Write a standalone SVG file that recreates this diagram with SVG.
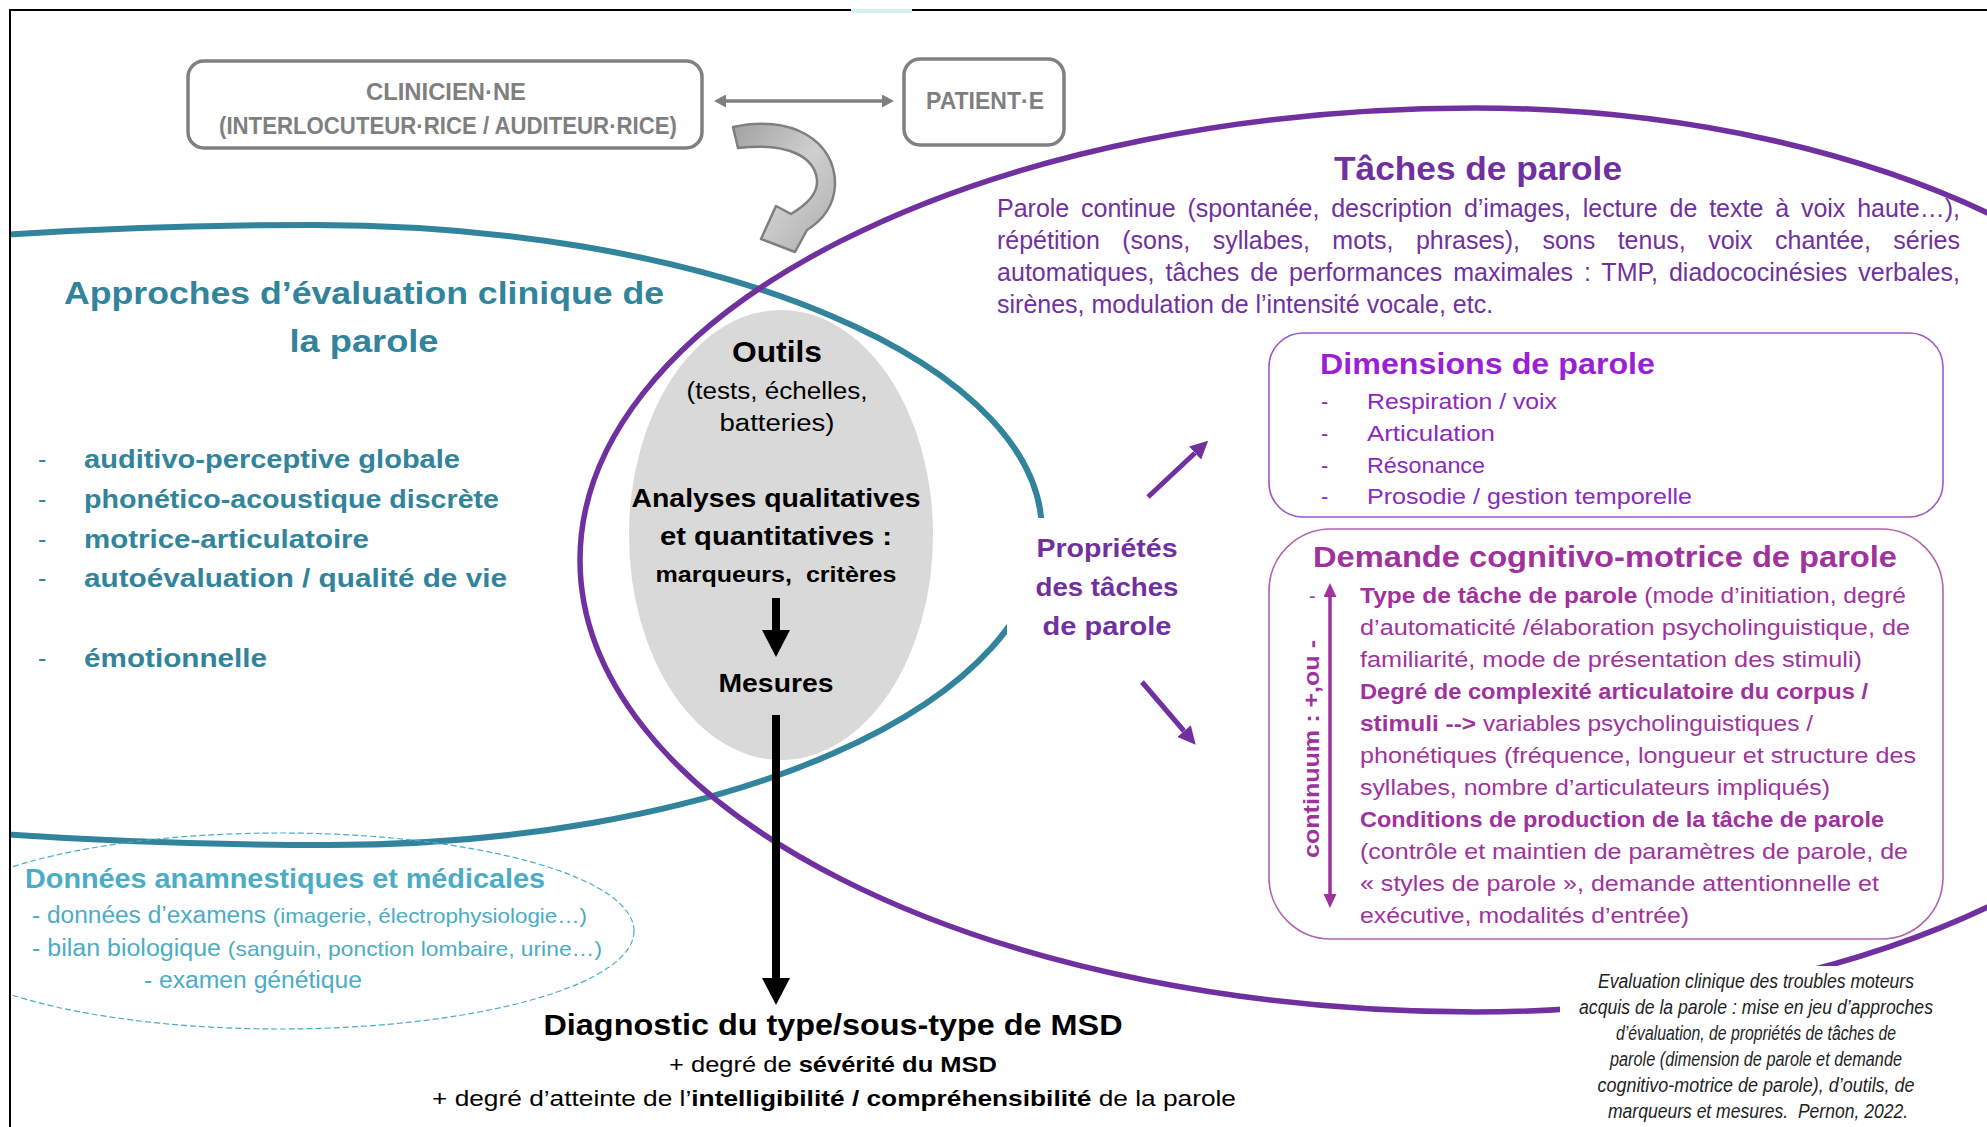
<svg xmlns="http://www.w3.org/2000/svg" width="1987" height="1127" viewBox="0 0 1987 1127">
<defs>
<style>
text{font-family:"Liberation Sans",Arial,sans-serif}
.b{font-weight:bold}
.it{font-style:italic}
.gray{fill:#7f7f7f}
.teal{fill:#31849b}
.lteal{fill:#4bacc6}
.pur{fill:#7030a0}
.vio{fill:#9a1fd6}
.vio2{fill:#8c28be}
.mag{fill:#a0329e}
.blk{fill:#000}
.cap{fill:#1e1e1e}
</style>
<marker id="ahGray" viewBox="0 0 12 13" markerWidth="12" markerHeight="13" refX="0" refY="6.5" orient="auto-start-reverse" markerUnits="userSpaceOnUse"><path d="M0,0 L12,6.5 L0,13 Z" fill="#7f7f7f"/></marker>
<marker id="ahBlack" viewBox="0 0 27 28" markerWidth="27" markerHeight="28" refX="0" refY="14" orient="auto" markerUnits="userSpaceOnUse"><path d="M0,0 L27,14 L0,28 Z" fill="#000"/></marker>
<marker id="ahPur" viewBox="0 0 18 18" markerWidth="18" markerHeight="18" refX="0" refY="9" orient="auto" markerUnits="userSpaceOnUse"><path d="M0,0 L18,9 L0,18 Z" fill="#7030a0"/></marker>
<marker id="ahMag" viewBox="0 0 14 13" markerWidth="14" markerHeight="13" refX="0" refY="6.5" orient="auto-start-reverse" markerUnits="userSpaceOnUse"><path d="M0,0 L14,6.5 L0,13 Z" fill="#a0329e"/></marker>
<linearGradient id="gArrow" x1="0" y1="0" x2="1" y2="1"><stop offset="0" stop-color="#a0a0a0"/><stop offset="0.5" stop-color="#cfcfcf"/><stop offset="1" stop-color="#adadad"/></linearGradient>
</defs>
<rect width="1987" height="1127" fill="#fff"/>

<g id="shapes">
<path id="teal-ellipse" d="M315,225 A727,307 0 0 1 1042,532 A712,313 0 0 1 330,845 A1255,313 0 0 1 -925,532 A1240,307 0 0 1 315,225 Z" fill="none" stroke="#31849b" stroke-width="6"/>
<path id="purple-ellipse" d="M1475,108 A800,452 0 0 1 2275,560 A800,452 0 0 1 1475,1012 A895,452 0 0 1 580,560 A895,452 0 0 1 1475,108 Z" fill="none" stroke="#7030a0" stroke-width="5.5"/>
<ellipse id="donnees-ellipse" cx="280" cy="931" rx="354" ry="98" fill="none" stroke="#4bacc6" stroke-width="1.2" stroke-dasharray="6 3"/>
<rect x="1007" y="518" width="185" height="132" fill="#fff"/>
<rect x="1560" y="966" width="400" height="161" fill="#fff"/>
<rect x="0" y="0" width="9" height="1127" fill="#fff"/>
<rect x="0" y="0" width="1987" height="9" fill="#fff"/>
<path d="M10,1127 V10 H851 M912,10 H1987" fill="none" stroke="#000" stroke-width="2"/>
<rect x="851" y="9" width="61" height="4" fill="#d6eef5"/>
</g>

<g id="clinicien">
<rect x="188" y="61" width="514" height="87" rx="16" fill="#fff" stroke="#808080" stroke-width="3.5"/>
<text class="b gray" x="446" y="100" font-size="23" text-anchor="middle" textLength="160" lengthAdjust="spacingAndGlyphs">CLINICIEN·NE</text>
<text class="b gray" x="448" y="134" font-size="23" text-anchor="middle" textLength="458" lengthAdjust="spacingAndGlyphs">(INTERLOCUTEUR·RICE / AUDITEUR·RICE)</text>
</g>

<g id="patient">
<rect x="904" y="59" width="160" height="86" rx="16" fill="#fff" stroke="#808080" stroke-width="3.5"/>
<text class="b gray" x="985" y="109" font-size="23" text-anchor="middle" textLength="118" lengthAdjust="spacingAndGlyphs">PATIENT·E</text>
</g>

<g id="approches">
<text class="b teal" x="364" y="304" font-size="31" text-anchor="middle" textLength="600" lengthAdjust="spacingAndGlyphs">Approches d’évaluation clinique de</text>
<text class="b teal" x="364" y="352" font-size="31" text-anchor="middle" textLength="149" lengthAdjust="spacingAndGlyphs">la parole</text>
<g font-size="25">
<text class="teal" x="38" y="468">-</text>
<text class="teal" x="38" y="508">-</text>
<text class="teal" x="38" y="548">-</text>
<text class="teal" x="38" y="587">-</text>
<text class="teal" x="38" y="667">-</text>
<text class="b teal" x="84" y="468" textLength="376" lengthAdjust="spacingAndGlyphs">auditivo-perceptive globale</text>
<text class="b teal" x="84" y="508" textLength="415" lengthAdjust="spacingAndGlyphs">phonético-acoustique discrète</text>
<text class="b teal" x="84" y="548" textLength="285" lengthAdjust="spacingAndGlyphs">motrice-articulatoire</text>
<text class="b teal" x="84" y="587" textLength="423" lengthAdjust="spacingAndGlyphs">autoévaluation / qualité de vie</text>
<text class="b teal" x="84" y="667" textLength="183" lengthAdjust="spacingAndGlyphs">émotionnelle</text>
</g>
</g>

<g id="outils">
<ellipse cx="781" cy="535" rx="152" ry="225" fill="#d9d9d9"/>
<text class="b blk" x="777" y="362" font-size="30" text-anchor="middle" textLength="90" lengthAdjust="spacingAndGlyphs">Outils</text>
<text class="blk" x="777" y="399" font-size="23" text-anchor="middle" textLength="181" lengthAdjust="spacingAndGlyphs">(tests, échelles,</text>
<text class="blk" x="777" y="431" font-size="23" text-anchor="middle" textLength="115" lengthAdjust="spacingAndGlyphs">batteries)</text>
<text class="b blk" x="776" y="507" font-size="26" text-anchor="middle" textLength="289" lengthAdjust="spacingAndGlyphs">Analyses qualitatives</text>
<text class="b blk" x="776" y="545" font-size="26" text-anchor="middle" textLength="232" lengthAdjust="spacingAndGlyphs">et quantitatives :</text>
<text class="b blk" x="776" y="582" font-size="22" text-anchor="middle" textLength="241" lengthAdjust="spacingAndGlyphs">marqueurs,&#160; critères</text>
<text class="b blk" x="776" y="692" font-size="26" text-anchor="middle" textLength="115" lengthAdjust="spacingAndGlyphs">Mesures</text>
</g>

<g id="taches">
<text class="b pur" x="1478" y="180" font-size="33" text-anchor="middle" textLength="288" lengthAdjust="spacingAndGlyphs">Tâches de parole</text>
<g font-size="25">
<text class="pur" x="997" y="217" word-spacing="4.9" textLength="963" lengthAdjust="spacing">Parole continue (spontanée, description d’images, lecture de texte à voix haute…),</text>
<text class="pur" x="997" y="249" word-spacing="15.5" textLength="963" lengthAdjust="spacing">répétition (sons, syllabes, mots, phrases), sons tenus, voix chantée, séries</text>
<text class="pur" x="997" y="281" word-spacing="3.9" textLength="963" lengthAdjust="spacing">automatiques, tâches de performances maximales : TMP, diadococinésies verbales,</text>
<text class="pur" x="997" y="313">sirènes, modulation de l’intensité vocale, etc.</text>
</g>
</g>

<g id="proprietes">
<text class="b pur" x="1107" y="557" font-size="25" text-anchor="middle" textLength="141" lengthAdjust="spacingAndGlyphs">Propriétés</text>
<text class="b pur" x="1107" y="596" font-size="25" text-anchor="middle" textLength="143" lengthAdjust="spacingAndGlyphs">des tâches</text>
<text class="b pur" x="1107" y="635" font-size="25" text-anchor="middle" textLength="129" lengthAdjust="spacingAndGlyphs">de parole</text>
</g>

<g id="dimensions">
<rect x="1269" y="333" width="674" height="184" rx="34" fill="#fff" stroke="#9b59c6" stroke-width="1.6"/>
<text class="b vio" x="1320" y="374" font-size="30" textLength="335" lengthAdjust="spacingAndGlyphs">Dimensions de parole</text>
<g font-size="22">
<text class="vio2" x="1321" y="409">-</text>
<text class="vio2" x="1321" y="441">-</text>
<text class="vio2" x="1321" y="473">-</text>
<text class="vio2" x="1321" y="504">-</text>
<text class="vio2" x="1367" y="409" textLength="190" lengthAdjust="spacingAndGlyphs">Respiration / voix</text>
<text class="vio2" x="1367" y="441" textLength="128" lengthAdjust="spacingAndGlyphs">Articulation</text>
<text class="vio2" x="1367" y="473" textLength="118" lengthAdjust="spacingAndGlyphs">Résonance</text>
<text class="vio2" x="1367" y="504" textLength="325" lengthAdjust="spacingAndGlyphs">Prosodie / gestion temporelle</text>
</g>
</g>

<g id="demande">
<rect x="1269" y="529" width="674" height="410" rx="62" fill="#fff" stroke="#b065b0" stroke-width="1.6"/>
<text class="b mag" x="1313" y="567" font-size="30" textLength="584" lengthAdjust="spacingAndGlyphs">Demande cognitivo-motrice de parole</text>
<text class="mag" x="1309" y="603" font-size="20">-</text>
<text class="b mag" transform="translate(1319,749) rotate(-90)" x="0" y="0" font-size="22" text-anchor="middle" textLength="218" lengthAdjust="spacingAndGlyphs">continuum : +,ou -</text>
<g font-size="22">
<text class="mag" x="1360" y="603" textLength="546" lengthAdjust="spacingAndGlyphs"><tspan class="b">Type de tâche de parole</tspan> (mode d’initiation, degré</text>
<text class="mag" x="1360" y="635" textLength="550" lengthAdjust="spacingAndGlyphs">d’automaticité /élaboration psycholinguistique, de</text>
<text class="mag" x="1360" y="667" textLength="502" lengthAdjust="spacingAndGlyphs">familiarité, mode de présentation des stimuli)</text>
<text class="b mag" x="1360" y="699" textLength="508" lengthAdjust="spacingAndGlyphs">Degré de complexité articulatoire du corpus /</text>
<text class="mag" x="1360" y="731" textLength="453" lengthAdjust="spacingAndGlyphs"><tspan class="b">stimuli --&gt;</tspan> variables psycholinguistiques /</text>
<text class="mag" x="1360" y="763" textLength="556" lengthAdjust="spacingAndGlyphs">phonétiques (fréquence, longueur et structure des</text>
<text class="mag" x="1360" y="795" textLength="470" lengthAdjust="spacingAndGlyphs">syllabes, nombre d’articulateurs impliqués)</text>
<text class="b mag" x="1360" y="827" textLength="524" lengthAdjust="spacingAndGlyphs">Conditions de production de la tâche de parole</text>
<text class="mag" x="1360" y="859" textLength="548" lengthAdjust="spacingAndGlyphs">(contrôle et maintien de paramètres de parole, de</text>
<text class="mag" x="1360" y="891" textLength="519" lengthAdjust="spacingAndGlyphs">« styles de parole », demande attentionnelle et</text>
<text class="mag" x="1360" y="923" textLength="329" lengthAdjust="spacingAndGlyphs">exécutive, modalités d’entrée)</text>
</g>
</g>

<g id="donnees">
<text class="b lteal" x="25" y="888" font-size="28" textLength="520" lengthAdjust="spacingAndGlyphs">Données anamnestiques et médicales</text>
<text class="lteal" x="32" y="923" font-size="23" textLength="555" lengthAdjust="spacingAndGlyphs">- données d’examens <tspan font-size="21">(imagerie, électrophysiologie…)</tspan></text>
<text class="lteal" x="32" y="956" font-size="23" textLength="570" lengthAdjust="spacingAndGlyphs">- bilan biologique <tspan font-size="21">(sanguin, ponction lombaire, urine…)</tspan></text>
<text class="lteal" x="144" y="988" font-size="23" textLength="218" lengthAdjust="spacingAndGlyphs">- examen génétique</text>
</g>

<g id="diagnostic">
<text class="b blk" x="833" y="1035" font-size="30" text-anchor="middle" textLength="579" lengthAdjust="spacingAndGlyphs">Diagnostic du type/sous-type de MSD</text>
<text class="blk" x="833" y="1072" font-size="22" text-anchor="middle" textLength="328" lengthAdjust="spacingAndGlyphs">+ degré de <tspan class="b">sévérité du MSD</tspan></text>
<text class="blk" x="834" y="1106" font-size="22" text-anchor="middle" textLength="804" lengthAdjust="spacingAndGlyphs">+ degré d’atteinte de l’<tspan class="b">intelligibilité / compréhensibilité</tspan> de la parole</text>
</g>

<g id="caption" font-size="19.5">
<text class="it cap" x="1756" y="988" text-anchor="middle" textLength="316" lengthAdjust="spacingAndGlyphs">Evaluation clinique des troubles moteurs</text>
<text class="it cap" x="1756" y="1014" text-anchor="middle" textLength="354" lengthAdjust="spacingAndGlyphs">acquis de la parole : mise en jeu d’approches</text>
<text class="it cap" x="1756" y="1040" text-anchor="middle" textLength="280" lengthAdjust="spacingAndGlyphs">d’évaluation, de propriétés de tâches de</text>
<text class="it cap" x="1756" y="1066" text-anchor="middle" textLength="292" lengthAdjust="spacingAndGlyphs">parole (dimension de parole et demande</text>
<text class="it cap" x="1756" y="1092" text-anchor="middle" textLength="317" lengthAdjust="spacingAndGlyphs">cognitivo-motrice de parole), d’outils, de</text>
<text class="it cap" x="1758" y="1118" text-anchor="middle" textLength="300" lengthAdjust="spacingAndGlyphs">marqueurs et mesures.&#160; Pernon, 2022.</text>
</g>

<g id="connectors">
<line x1="726" y1="101" x2="882" y2="101" stroke="#7f7f7f" stroke-width="3.5" marker-start="url(#ahGray)" marker-end="url(#ahGray)"/>
<path d="M733,127 C790,114 836,140 835,185 C834,206 823,220 807,230 L795,252 L761,239 L776,206 L791,214 C808,204 818,192 817,180 C815,158 790,142 738,148 Z" fill="url(#gArrow)" stroke="#7f7f7f" stroke-width="2.5" stroke-linejoin="round"/>
<line x1="776" y1="598" x2="776" y2="630" stroke="#000" stroke-width="8" marker-end="url(#ahBlack)"/>
<line x1="776" y1="715" x2="776" y2="978" stroke="#000" stroke-width="8" marker-end="url(#ahBlack)"/>
<line x1="1148" y1="497" x2="1195" y2="453" stroke="#7030a0" stroke-width="5" marker-end="url(#ahPur)"/>
<line x1="1142" y1="682" x2="1184" y2="731" stroke="#7030a0" stroke-width="5" marker-end="url(#ahPur)"/>
<line x1="1330" y1="597" x2="1330" y2="894" stroke="#a0329e" stroke-width="3.5" marker-start="url(#ahMag)" marker-end="url(#ahMag)"/>
</g>
</svg>
